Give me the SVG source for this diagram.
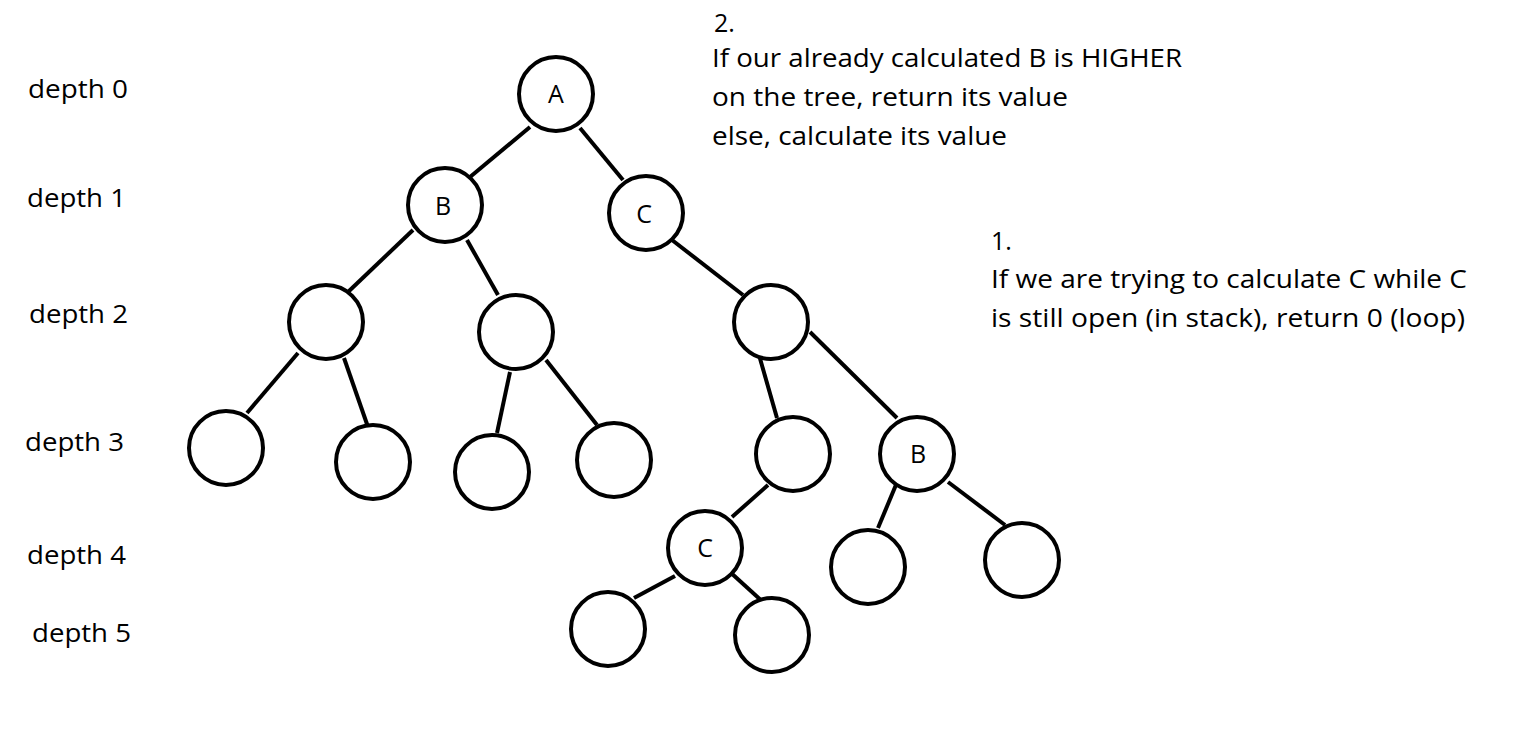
<svg xmlns="http://www.w3.org/2000/svg" width="1527" height="753" viewBox="0 0 1527 753">
<style>
.n{fill:#fff;stroke:#000;stroke-width:4}
.e{stroke:#000;stroke-width:4;stroke-linecap:butt}
text{font-family:"Open Sans","Noto Sans",sans-serif;font-size:25px;fill:#000}
.l{text-anchor:middle}
</style>
<rect width="1527" height="753" fill="#fff"/>
<g id="connectors">
<line class="e" x1="530" y1="127" x2="470" y2="177"/>
<line class="e" x1="580" y1="128" x2="623" y2="180"/>
<line class="e" x1="413" y1="230" x2="348" y2="292"/>
<line class="e" x1="467" y1="240" x2="498" y2="295"/>
<line class="e" x1="672" y1="240" x2="743" y2="295"/>
<line class="e" x1="298" y1="353" x2="247" y2="413"/>
<line class="e" x1="344" y1="358" x2="368" y2="427"/>
<line class="e" x1="510" y1="372" x2="497" y2="433"/>
<line class="e" x1="546" y1="360" x2="597" y2="425"/>
<line class="e" x1="759" y1="355" x2="777" y2="418"/>
<line class="e" x1="810" y1="332" x2="897" y2="418"/>
<line class="e" x1="768" y1="485" x2="732" y2="517"/>
<line class="e" x1="898" y1="480" x2="878" y2="528"/>
<line class="e" x1="948" y1="482" x2="1005" y2="525"/>
<line class="e" x1="675" y1="576" x2="634" y2="598"/>
<line class="e" x1="730" y1="572" x2="763" y2="602"/>
</g>
<g id="nA"><circle class="n" cx="556" cy="94" r="37"/><text class="l" x="556" y="103">A</text></g>
<g id="nB"><circle class="n" cx="445" cy="205" r="37"/><text class="l" x="443" y="215">B</text></g>
<g id="nC"><circle class="n" cx="646" cy="213" r="37"/><text class="l" x="644" y="223">C</text></g>
<g id="nL2"><circle class="n" cx="326" cy="322" r="37"/></g>
<g id="nM2"><circle class="n" cx="516" cy="332" r="37"/></g>
<g id="nR2"><circle class="n" cx="771" cy="322" r="37"/></g>
<g id="n3a"><circle class="n" cx="226" cy="448" r="37"/></g>
<g id="n3b"><circle class="n" cx="373" cy="462" r="37"/></g>
<g id="n3c"><circle class="n" cx="492" cy="472" r="37"/></g>
<g id="n3d"><circle class="n" cx="614" cy="460" r="37"/></g>
<g id="n3e"><circle class="n" cx="793" cy="454" r="37"/></g>
<g id="nB3"><circle class="n" cx="917" cy="454" r="37"/><text class="l" x="918" y="463">B</text></g>
<g id="nC4"><circle class="n" cx="705" cy="548" r="37"/><text class="l" x="705" y="557">C</text></g>
<g id="n4a"><circle class="n" cx="868" cy="567" r="37"/></g>
<g id="n4b"><circle class="n" cx="1022" cy="560" r="37"/></g>
<g id="n5a"><circle class="n" cx="608" cy="629" r="37"/></g>
<g id="n5b"><circle class="n" cx="772" cy="635" r="37"/></g>
<g id="depths">
<text x="28" y="98" textLength="100" lengthAdjust="spacingAndGlyphs">depth 0</text>
<text x="27" y="207" textLength="99" lengthAdjust="spacingAndGlyphs">depth 1</text>
<text x="29" y="323" textLength="99" lengthAdjust="spacingAndGlyphs">depth 2</text>
<text x="25" y="451" textLength="99" lengthAdjust="spacingAndGlyphs">depth 3</text>
<text x="27" y="564" textLength="99" lengthAdjust="spacingAndGlyphs">depth 4</text>
<text x="32" y="642" textLength="99" lengthAdjust="spacingAndGlyphs">depth 5</text>
</g>
<g id="note2">
<text x="714" y="32">2.</text>
<text x="712" y="67" textLength="470" lengthAdjust="spacingAndGlyphs">If our already calculated B is HIGHER</text>
<text x="712" y="106" textLength="356" lengthAdjust="spacingAndGlyphs">on the tree, return its value</text>
<text x="712" y="145" textLength="295" lengthAdjust="spacingAndGlyphs">else, calculate its value</text>
</g>
<g id="note1">
<text x="991" y="250">1.</text>
<text x="991" y="288" textLength="476" lengthAdjust="spacingAndGlyphs">If we are trying to calculate C while C</text>
<text x="991" y="327" textLength="474" lengthAdjust="spacingAndGlyphs">is still open (in stack), return 0 (loop)</text>
</g>
</svg>
